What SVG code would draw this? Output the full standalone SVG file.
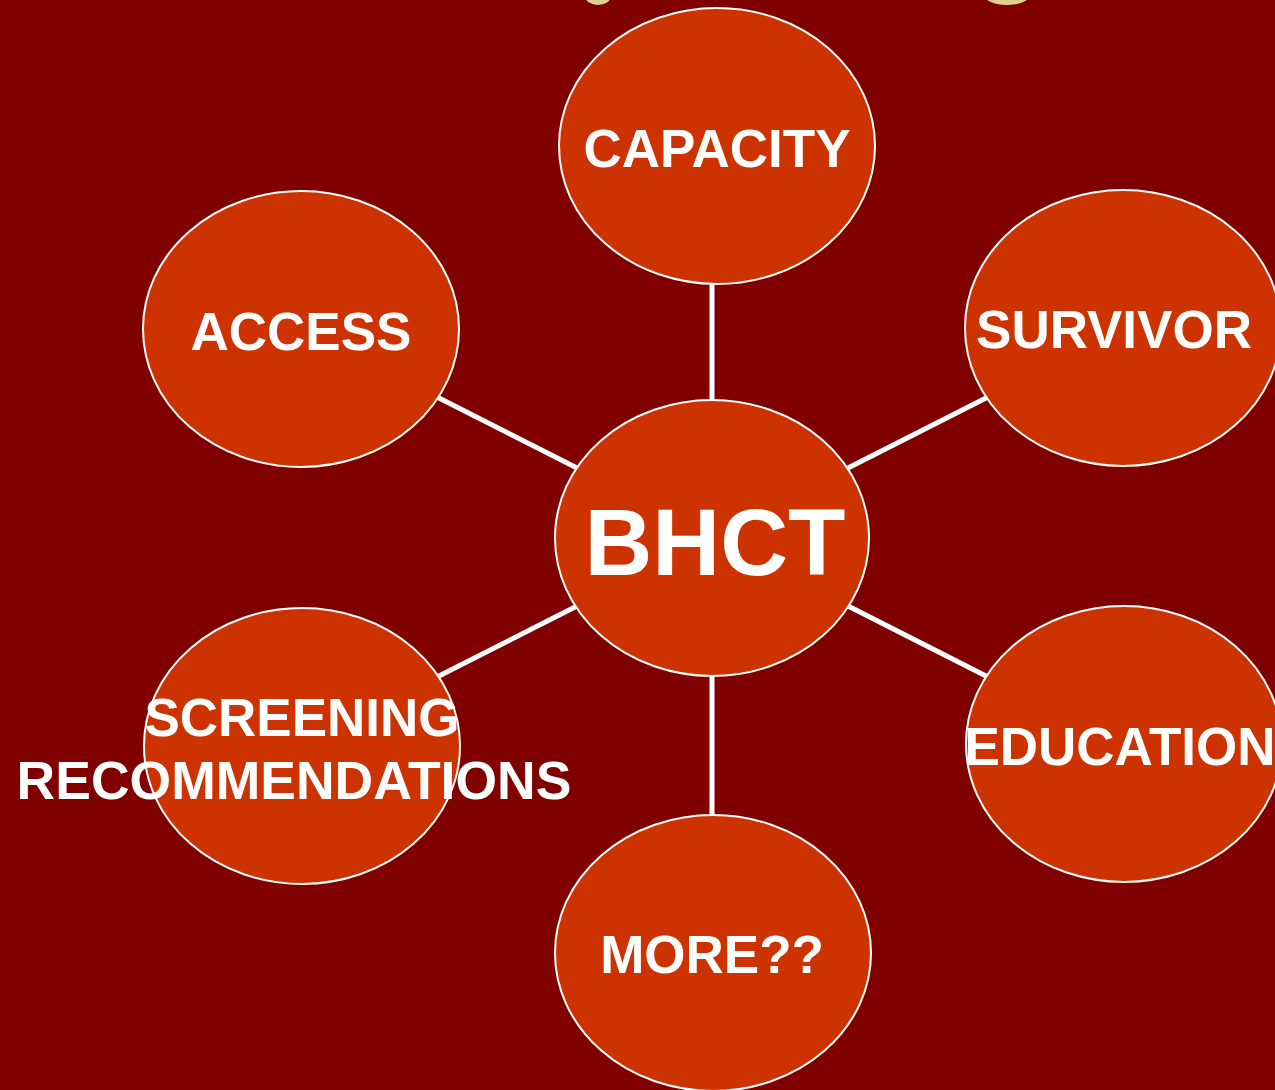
<svg xmlns="http://www.w3.org/2000/svg" width="1275" height="1090" viewBox="0 0 1275 1090">
<style>
.node{fill:#CC3300;stroke:#FFFFFF;stroke-width:2}
.lbl{font-family:"Liberation Sans",Arial,sans-serif;font-weight:bold;fill:#FFFFFF;text-anchor:middle;font-size:53px}
.conn{stroke:#FFFFFF;stroke-width:5;fill:none}
</style>
<rect x="0" y="0" width="1275" height="1090" fill="#800000"/>
<g id="title-fragments" fill="#E0D090">
<ellipse cx="598" cy="-4" rx="13" ry="9"/>
<ellipse cx="1007" cy="-5" rx="23" ry="10"/>
</g>
<g id="connectors">
<line class="conn" x1="712" y1="284" x2="712" y2="400"/>
<line class="conn" x1="712" y1="676" x2="712" y2="817"/>
<line class="conn" x1="437" y1="397" x2="577" y2="468"/>
<line class="conn" x1="848" y1="468" x2="988" y2="397"/>
<line class="conn" x1="437" y1="677" x2="577" y2="606"/>
<line class="conn" x1="848" y1="606" x2="988" y2="677"/>
</g>
<g id="node-capacity">
<ellipse class="node" cx="717" cy="146" rx="158" ry="138"/>
<text class="lbl" x="717" y="167">CAPACITY</text>
</g>
<g id="node-access">
<ellipse class="node" cx="301" cy="329" rx="158" ry="138"/>
<text class="lbl" x="301" y="350">ACCESS</text>
</g>
<g id="node-survivor">
<ellipse class="node" cx="1123" cy="328" rx="158" ry="138"/>
<text class="lbl" x="1114" y="348">SURVIVOR</text>
</g>
<g id="node-bhct">
<ellipse class="node" cx="712" cy="538" rx="157" ry="138"/>
<text class="lbl" x="715" y="575" style="font-size:94px">BHCT</text>
</g>
<g id="node-screening">
<ellipse class="node" cx="302" cy="746" rx="158" ry="138"/>
<text class="lbl" x="302" y="736">SCREENING</text>
<text class="lbl" x="294" y="799" style="font-size:53.5px">RECOMMENDATIONS</text>
</g>
<g id="node-education">
<ellipse class="node" cx="1124" cy="744" rx="158" ry="138"/>
<text class="lbl" x="1120" y="765">EDUCATION</text>
</g>
<g id="node-more">
<ellipse class="node" cx="713" cy="953" rx="158" ry="138"/>
<text class="lbl" x="712" y="973">MORE??</text>
</g>
</svg>
